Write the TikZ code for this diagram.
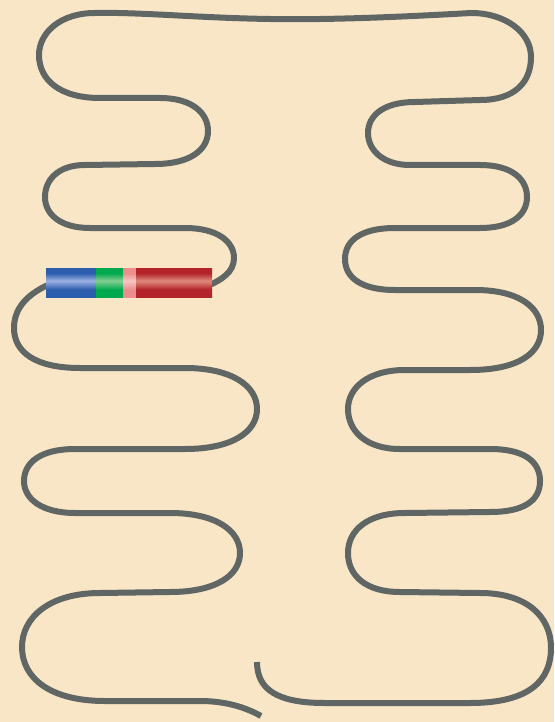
\documentclass[tikz,border=0pt]{standalone}
\usetikzlibrary{calc}
\definecolor{bgc}{HTML}{F9E6C7}
\definecolor{strand}{HTML}{5F6664}
\definecolor{bB}{HTML}{2C5DAE}
\definecolor{bL}{HTML}{9DB2E2}
\definecolor{gB}{HTML}{00A94E}
\definecolor{gL}{HTML}{86CF92}
\definecolor{pB}{HTML}{EC8E8E}
\definecolor{pL}{HTML}{F6C6C2}
\definecolor{rB}{HTML}{B3242B}
\definecolor{rL}{HTML}{DE8A7C}
\pgfdeclareverticalshading{blueband}{100bp}{color(0bp)=(bB!85!black);color(12bp)=(bB);color(38bp)=(bB);color(53bp)=(bL);color(66bp)=(bB);color(88bp)=(bB);color(100bp)=(bB!85!black)}
\pgfdeclareverticalshading{greenband}{100bp}{color(0bp)=(gB);color(38bp)=(gB);color(53bp)=(gL);color(66bp)=(gB);color(100bp)=(gB)}
\pgfdeclareverticalshading{pinkband}{100bp}{color(0bp)=(pB);color(38bp)=(pB);color(53bp)=(pL);color(66bp)=(pB);color(100bp)=(pB)}
\pgfdeclareverticalshading{redband}{100bp}{color(0bp)=(rB);color(38bp)=(rB);color(53bp)=(rL);color(66bp)=(rB);color(100bp)=(rB)}
\tikzset{
  strandline/.style={draw=strand, line width=6pt, line join=round},
  seg/.style={shading=#1, draw=none}
}
\begin{document}
\begin{tikzpicture}[x=1pt,y=-1pt]
\fill[bgc] (0,0) rectangle (554,722);
\useasboundingbox (0,0) rectangle (554,722);
% strand
\coordinate (endA) at (257,662);
\coordinate (endB) at (261,716);
\path[strandline]
  (endA) .. controls (257,690) and (278,703) .. (325,703)
  -- (470,703)
  .. controls (530,703) and (551,680) .. (551,648)
  .. controls (551,615) and (525,593) .. (480,593)
  -- (400,592)
  .. controls (365,592) and (348,575) .. (348,553)
  .. controls (348,530) and (368,513) .. (405,513)
  -- (490,512)
  .. controls (525,512) and (540,500) .. (540,481)
  .. controls (540,462) and (525,449) .. (490,449)
  -- (400,449)
  .. controls (365,449) and (348,430) .. (348,409)
  .. controls (348,388) and (368,370) .. (405,370)
  -- (470,370)
  .. controls (520,370) and (541,352) .. (541,330)
  .. controls (541,308) and (520,290) .. (475,290)
  -- (395,290)
  .. controls (362,290) and (345,278) .. (345,259)
  .. controls (345,240) and (362,228) .. (395,228)
  -- (480,228)
  .. controls (513,228) and (527,214) .. (527,197)
  .. controls (527,180) and (513,165) .. (480,165)
  -- (410,165)
  .. controls (383,165) and (368,150) .. (368,133)
  .. controls (368,116) and (383,102) .. (415,102)
  -- (480,100)
  .. controls (515,100) and (531,82) .. (531,57)
  .. controls (531,32) and (505,13) .. (471,13)
  .. controls (400,17) and (330,20) .. (270,19)
  .. controls (200,18) and (140,12) .. (95,13)
  .. controls (60,13) and (39,33) .. (39,55)
  .. controls (39,80) and (60,98) .. (100,98)
  -- (160,98)
  .. controls (192,98) and (208,113) .. (208,131)
  .. controls (208,150) and (190,164) .. (155,164)
  -- (85,165)
  .. controls (58,165) and (45,180) .. (45,197)
  .. controls (45,214) and (60,228) .. (90,228)
  -- (185,228)
  .. controls (218,228) and (234,242) .. (234,258)
  .. controls (234,272) and (222,280) .. (205,287)
  -- (50,284)
  .. controls (25,295) and (14,310) .. (14,328)
  .. controls (14,352) and (35,368) .. (80,368)
  -- (185,368)
  .. controls (232,368) and (257,386) .. (257,409)
  .. controls (257,432) and (232,449) .. (185,449)
  -- (75,449)
  .. controls (40,449) and (24,463) .. (24,481)
  .. controls (24,499) and (42,513) .. (75,513)
  -- (170,513)
  .. controls (215,513) and (240,530) .. (240,553)
  .. controls (240,576) and (215,592) .. (170,592)
  -- (100,593)
  .. controls (50,593) and (22,617) .. (22,647)
  .. controls (22,678) and (50,701) .. (105,701)
  -- (200,701)
  .. controls (225,701) and (245,707) .. (endB);
% coloured bar
\path[seg=blueband]  (46,268) rectangle (96,297);
\path[seg=greenband] (96,268) rectangle (123,297);
\path[seg=pinkband]  (123,268) rectangle (136,297);
\path[seg=redband]   (136,268) rectangle (212,297);
\end{tikzpicture}
\end{document}
